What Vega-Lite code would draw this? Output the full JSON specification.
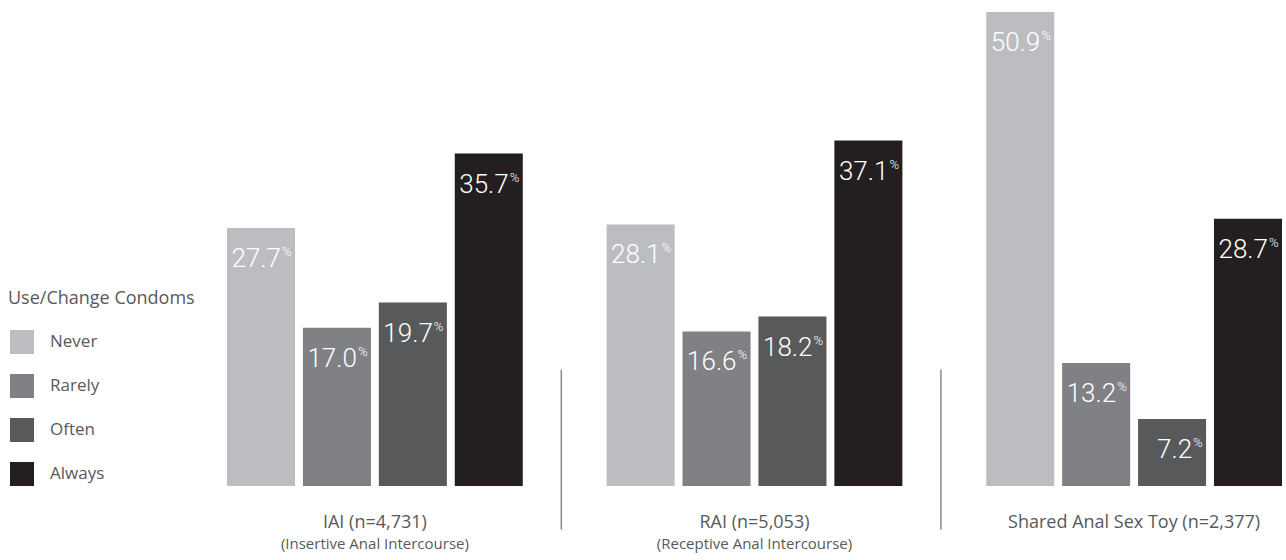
{
  "$schema": "https://vega.github.io/schema/vega-lite/v6.json",
  "width": 1055,
  "height": 486,
  "autosize": "none",
  "padding": {"left": 227, "top": 0, "right": 4, "bottom": 74},
  "config": {"view": {"stroke": null}, "font": "Open Sans"},
  "datasets": {
    "bars": [
      {"group": "IAI", "slot": "IAI-Never", "category": "Never", "value": 27.7},
      {"group": "IAI", "slot": "IAI-Rarely", "category": "Rarely", "value": 17.0},
      {"group": "IAI", "slot": "IAI-Often", "category": "Often", "value": 19.7},
      {"group": "IAI", "slot": "IAI-Always", "category": "Always", "value": 35.7},
      {"group": "RAI", "slot": "RAI-Never", "category": "Never", "value": 28.1},
      {"group": "RAI", "slot": "RAI-Rarely", "category": "Rarely", "value": 16.6},
      {"group": "RAI", "slot": "RAI-Often", "category": "Often", "value": 18.2},
      {"group": "RAI", "slot": "RAI-Always", "category": "Always", "value": 37.1},
      {"group": "Toy", "slot": "Toy-Never", "category": "Never", "value": 50.9},
      {"group": "Toy", "slot": "Toy-Rarely", "category": "Rarely", "value": 13.2},
      {"group": "Toy", "slot": "Toy-Often", "category": "Often", "value": 7.2},
      {"group": "Toy", "slot": "Toy-Always", "category": "Always", "value": 28.7}
    ],
    "groups": [
      {"slot": "IAI-Rarely", "label": "IAI (n=4,731)", "sub": "(Insertive Anal Intercourse)"},
      {"slot": "RAI-Rarely", "label": "RAI (n=5,053)", "sub": "(Receptive Anal Intercourse)"},
      {"slot": "Toy-Rarely", "label": "Shared Anal Sex Toy (n=2,377)", "sub": ""}
    ],
    "dividers": [
      {"slot": "gap1"},
      {"slot": "gap2"}
    ]
  },
  "layer": [
    {
      "data": {"name": "bars"},
      "mark": {"type": "bar"},
      "encoding": {
        "x": {
          "field": "slot",
          "type": "nominal",
          "scale": {
            "type": "band",
            "domain": ["IAI-Never", "IAI-Rarely", "IAI-Often", "IAI-Always", "gap1", "RAI-Never", "RAI-Rarely", "RAI-Often", "RAI-Always", "gap2", "Toy-Never", "Toy-Rarely", "Toy-Often", "Toy-Always"],
            "paddingInner": 0.104,
            "paddingOuter": 0
          },
          "axis": null
        },
        "y": {
          "field": "value",
          "type": "quantitative",
          "scale": {"domain": [0, 52.2], "nice": false},
          "axis": null
        },
        "color": {
          "field": "category",
          "type": "nominal",
          "scale": {
            "domain": ["Never", "Rarely", "Often", "Always"],
            "range": ["#bcbdc0", "#808184", "#58595b", "#231f20"]
          },
          "legend": {
            "orient": "none",
            "legendX": -219,
            "legendY": 290,
            "title": "Use/Change Condoms",
            "titleFont": "Open Sans",
            "titleFontSize": 18,
            "titleFontWeight": "normal",
            "titleColor": "#58595b",
            "titleLimit": 400,
            "titlePadding": 22,
            "symbolType": "square",
            "symbolSize": 576,
            "symbolStrokeWidth": 0,
            "symbolOpacity": 1,
            "symbolOffset": 2,
            "labelFont": "Open Sans",
            "labelFontSize": 17,
            "labelColor": "#58595b",
            "labelOffset": 16,
            "rowPadding": 20
          }
        }
      }
    },
    {
      "data": {"name": "bars"},
      "mark": {"type": "text", "align": "right", "baseline": "alphabetic", "dx": 20, "dy": 39, "font": "Roboto", "fontWeight": 300, "fontSize": 26, "color": "#ffffff"},
      "encoding": {
        "x": {"field": "slot", "type": "nominal"},
        "y": {"field": "value", "type": "quantitative"},
        "text": {"field": "value", "type": "quantitative", "format": ".1f"}
      }
    },
    {
      "data": {"name": "bars"},
      "mark": {"type": "text", "align": "left", "baseline": "top", "dx": 21, "dy": 18, "font": "Roboto", "fontWeight": 300, "fontSize": 13, "color": "#ffffff", "text": "%"},
      "encoding": {
        "x": {"field": "slot", "type": "nominal"},
        "y": {"field": "value", "type": "quantitative"}
      }
    },
    {
      "data": {"name": "dividers"},
      "mark": {"type": "rule", "color": "#8a8a8a", "strokeWidth": 1.5},
      "encoding": {
        "x": {"field": "slot", "type": "nominal", "bandPosition": 0.45},
        "y": {"datum": 12.5},
        "y2": {"datum": -4.7}
      }
    },
    {
      "data": {"name": "groups"},
      "mark": {"type": "text", "align": "center", "baseline": "alphabetic", "dy": 42, "font": "Open Sans", "fontSize": 18, "color": "#58595b"},
      "encoding": {
        "x": {"field": "slot", "type": "nominal", "bandPosition": 1.058},
        "y": {"datum": 0},
        "text": {"field": "label"}
      }
    },
    {
      "data": {"name": "groups"},
      "mark": {"type": "text", "align": "center", "baseline": "alphabetic", "dy": 63, "font": "Open Sans", "fontSize": 15, "color": "#58595b"},
      "encoding": {
        "x": {"field": "slot", "type": "nominal", "bandPosition": 1.058},
        "y": {"datum": 0},
        "text": {"field": "sub"}
      }
    }
  ]
}
